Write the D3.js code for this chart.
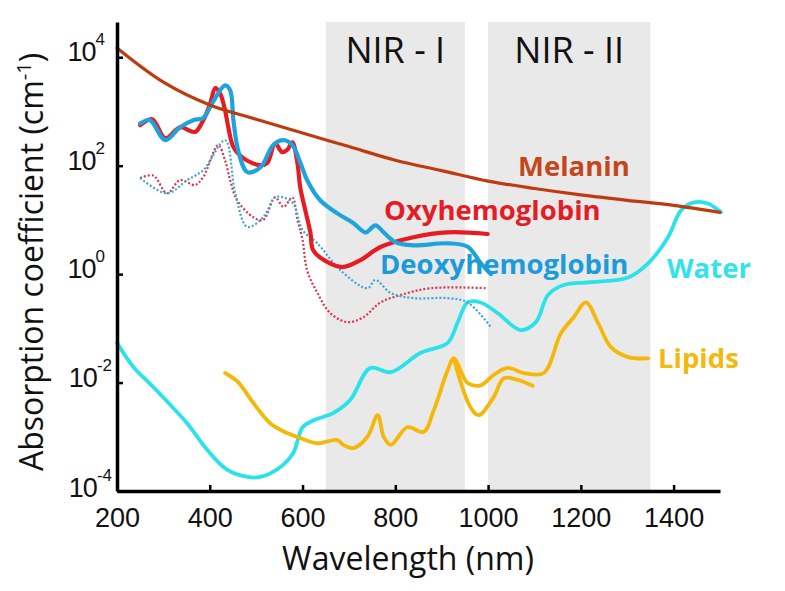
<!DOCTYPE html>
<html><head><meta charset="utf-8">
<script src="https://cdn.jsdelivr.net/npm/d3@7"></script>
<style>body{margin:0;background:#fff}svg{display:block}</style>
</head><body>
<svg id="c" width="785" height="591"></svg>
<script>
// ---- data (wavelength nm, absorption coefficient cm^-1) ----
const xTicks = [200, 400, 600, 800, 1000, 1200, 1400];
const yTickExps = [4, 2, 0, -2, -4];
const windows = [{name: "NIR - I", from: 650, to: 950}, {name: "NIR - II", from: 1000, to: 1350}];

const melaninWl = [200,300,400,500,600,700,800,900,1000,1100,1200,1300,1400,1500];
const melaninVal = [14800,3470,1320,720,400,225,126,81,52,38,29,23,18.6,13.8];

const oxyWl = [250,276,304,336,368,386,401,412,422,433,440,451,472,509,524,541,556,567,578,589,595,606,617,623,654,686,725,768,839,913,999];
const oxyVal = [560,720,320,510,420,690,1410,2690,2190,1050,510,220,138,102,112,257,178,195,269,112,40,15,5.8,2.75,1.66,1.35,1.82,3.16,4.8,5.9,5.5];

const deoxyWl = [250,271,304,336,364,386,405,433,444,451,461,481,509,537,559,578,595,610,638,675,710,736,757,775,800,839,913,956,984,1006];
const deoxyVal = [600,690,295,510,690,760,1410,3020,2450,690,195,76,93,240,295,240,115,54,23,13.2,8.7,5.9,7.9,5.9,3.9,3.4,3.7,3.2,1.6,1.0];

const oxyLowWl = [250,278,308,336,368,386,418,433,444,459,494,515,541,559,578,589,600,610,632,660,697,731,768,811,876,999];
const oxyLowVal = [59,66,31,54,44,62,240,126,54,23,11.2,10,26,17.4,26,10,4.3,1.17,0.45,0.19,0.13,0.16,0.30,0.41,0.55,0.55];

const deoxyLowWl = [250,308,351,386,433,455,481,515,541,559,580,600,632,682,740,757,790,839,913,956,1006];
const deoxyLowVal = [59,31,54,83,295,31,7.4,11.2,26,26,20,6.5,3.7,1.17,0.55,0.78,0.45,0.36,0.36,0.30,0.105];

const waterWl = [200,235,278,351,394,438,481,509,552,580,600,623,667,703,746,790,854,913,934,956,984,1021,1070,1103,1129,1163,1222,1302,1345,1388,1416,1444,1474,1502];
const waterVal = [0.054,0.0195,0.0083,0.00178,0.00058,0.000245,0.000182,0.000182,0.000275,0.0005,0.0015,0.002,0.00275,0.0048,0.0186,0.0155,0.035,0.054,0.126,0.30,0.30,0.19,0.093,0.13,0.41,0.63,0.71,0.87,1.58,4.8,15,21,20,13.8];

const lipidWl = [433,461,494,530,567,595,632,675,688,710,740,762,775,790,826,861,883,913,926,956,984,1012,1042,1077,1120,1157,1185,1211,1237,1265,1302,1345];
const lipidVal = [0.015,0.0102,0.0042,0.00178,0.00117,0.00095,0.00076,0.00087,0.00071,0.00062,0.001,0.0025,0.001,0.00071,0.0015,0.00123,0.0031,0.017,0.028,0.0098,0.0089,0.0138,0.0186,0.015,0.015,0.081,0.162,0.30,0.126,0.045,0.0295,0.028];

const lipid2Wl = [926,962,980,1012,1034,1064,1096];
const lipid2Val = [0.028,0.0035,0.0025,0.0054,0.012,0.0112,0.0087];

// ---- chart ----
const svg = d3.select("#c");
const x = d3.scaleLinear().domain([200, 1500]).range([117, 720]);
const y = d3.scaleLog().domain([1e-4, Math.pow(10, 4.65)]).range([491, 22]);

// NIR windows
svg.selectAll("rect.win").data(windows).join("rect")
  .attr("x", d => x(d.from)).attr("width", d => x(d.to) - x(d.from))
  .attr("y", y.range()[1]).attr("height", y.range()[0] - y.range()[1])
  .attr("fill", "#e9e9e9");
svg.selectAll("text.win").data(windows).join("text")
  .attr("x", d => x((d.from + d.to) / 2)).attr("y", 63)
  .attr("text-anchor", "middle").attr("font-family", "Open Sans, sans-serif")
  .attr("font-size", 36).attr("fill", "#111").text(d => d.name);

const zip = (a, b) => a.map((w, i) => [w, b[i]]);
const line = d3.line().x(d => x(d[0])).y(d => y(d[1])).curve(d3.curveCatmullRom.alpha(0.5));
function draw(wl, val, color, width, dash) {
  svg.append("path").datum(zip(wl, val)).attr("d", line)
    .attr("fill", "none").attr("stroke", color).attr("stroke-width", width)
    .attr("stroke-linejoin", "round").attr("stroke-linecap", dash ? "butt" : "round")
    .attr("stroke-dasharray", dash || null);
}
draw(waterWl, waterVal, "#2ae3ea", 3.8);
draw(lipidWl, lipidVal, "#f4b80a", 3.8);
draw(lipid2Wl, lipid2Val, "#f4b80a", 3.8);
draw(oxyLowWl, oxyLowVal, "#d8354e", 2.2, "2,2");
draw(deoxyLowWl, deoxyLowVal, "#3aa6d6", 2.2, "2,2");
draw(oxyWl, oxyVal, "#e81b23", 4.2);
draw(deoxyWl, deoxyVal, "#1fa3dd", 4.2);
draw(melaninWl, melaninVal, "#bf3a0e", 3.2);

// axes
const xAxis = d3.axisBottom(x).tickValues(xTicks).tickSize(-6).tickSizeOuter(0).tickPadding(17).tickFormat(d3.format("d"));
const gx = svg.append("g").attr("transform", "translate(0,491)").call(xAxis);
gx.select(".domain").attr("stroke", "#000").attr("stroke-width", 3.5);
gx.selectAll(".tick line").attr("stroke", "#000").attr("stroke-width", 2.5);
gx.selectAll(".tick text").attr("font-family", "Liberation Sans, Arial, sans-serif").attr("font-size", 27).attr("fill", "#111");

const yAxis = d3.axisLeft(y).tickValues(yTickExps.map(e => Math.pow(10, e))).tickSize(-6).tickSizeOuter(0).tickFormat("");
const gy = svg.append("g").attr("transform", "translate(117,0)").call(yAxis);
gy.select(".domain").attr("stroke", "#000").attr("stroke-width", 3.5);
gy.selectAll(".tick line").attr("stroke", "#000").attr("stroke-width", 2.5);
yTickExps.forEach(e => {
  const t = svg.append("text").attr("x", e < 0 ? 112 : 105).attr("y", y(Math.pow(10, e)) + (e === -4 ? 6 : 4))
    .attr("text-anchor", "end").attr("font-family", "Liberation Sans, Arial, sans-serif").attr("fill", "#111");
  t.append("tspan").attr("font-size", 27).attr("letter-spacing", -1).text("10");
  t.append("tspan").attr("font-size", 17).attr("dy", -16).text(String(e));
});

// axis titles
svg.append("text").attr("x", 408).attr("y", 570).attr("text-anchor", "middle")
  .attr("font-family", "Open Sans, sans-serif").attr("font-size", 32).attr("fill", "#111")
  .text("Wavelength (nm)");
const yt = svg.append("text").attr("transform", "translate(43,262) rotate(-90)").attr("text-anchor", "middle")
  .attr("font-family", "Open Sans, sans-serif").attr("font-size", 32).attr("fill", "#111");
yt.append("tspan").text("Absorption coefficient (cm");
yt.append("tspan").attr("font-size", 20).attr("dy", -12).text("-1");
yt.append("tspan").attr("dy", 12).text(")");

// series labels
const labels = [
  {t: "Melanin", x: 518, y: 176, c: "#c4461b"},
  {t: "Oxyhemoglobin", x: 384, y: 220, c: "#e31d26"},
  {t: "Deoxyhemoglobin", x: 380, y: 274, c: "#1c9bd8"},
  {t: "Water", x: 667, y: 278, c: "#33e3ec"},
  {t: "Lipids", x: 658, y: 368, c: "#f2b90e"}
];
svg.selectAll("text.lab").data(labels).join("text")
  .attr("x", d => d.x).attr("y", d => d.y).attr("fill", d => d.c)
  .attr("font-family", "Open Sans, sans-serif").attr("font-weight", "bold").attr("font-size", 27.5)
  .text(d => d.t);
</script>
</body></html>
